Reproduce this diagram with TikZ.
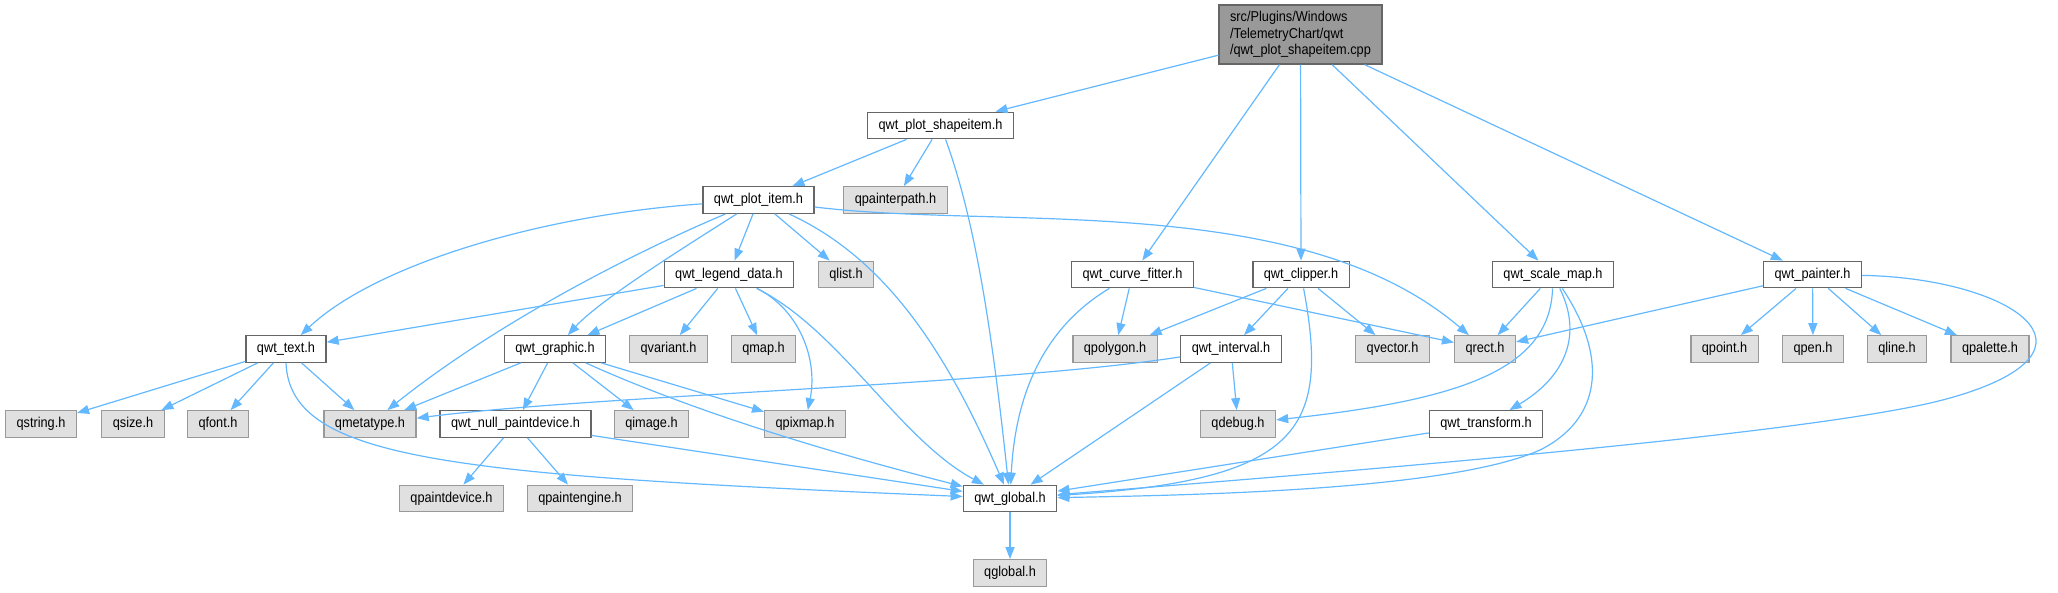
\documentclass[tikz,border=0pt]{standalone}
\usepackage{fontspec}
\setmainfont{Liberation Sans}[FakeStretch=0.89]
\usetikzlibrary{arrows.meta}

\definecolor{edgeblue}{HTML}{63B8FF}
\definecolor{boxgray}{HTML}{E0E0E0}
\definecolor{rootgray}{HTML}{999999}
\definecolor{darkline}{HTML}{666666}
\definecolor{lightline}{HTML}{999999}

\begin{document}
\begin{tikzpicture}[x=1pt,y=-1pt,
  file/.style={draw=darkline,fill=white,line width=1.3pt,inner xsep=11pt,inner ysep=0pt,
    minimum height=26.5pt,font=\fontsize{14.3}{16}\selectfont},
  sys/.style={file,draw=lightline,fill=boxgray},
  hdr/.style={file,fill=rootgray,align=left,minimum height=59pt,
    font=\fontsize{14.3}{16.3}\selectfont},
  dep/.style={draw=edgeblue,line width=1.2pt,-{Triangle[length=12pt,width=9pt]}}]
  \useasboundingbox (0,0) rectangle (2058,592);

  % top levels
  \node[hdr] (root) at (1300.5,34.5) {src/Plugins/Windows\\/TelemetryChart/qwt\\/qwt\_plot\_shapeitem.cpp};
  \node[file] (shapeitem) at (940.5,125.5) {qwt\_plot\_shapeitem.h};
  \node[file] (plotitem) at (758.5,200) {qwt\_plot\_item.h};
  \node[sys] (painterpath) at (895.5,200) {qpainterpath.h};
  \node[file] (legend) at (729,274.5) {qwt\_legend\_data.h};
  \node[sys] (qlist) at (846,274.5) {qlist.h};
  \node[file] (curvefitter) at (1132.5,274.5) {qwt\_curve\_fitter.h};
  \node[file] (clipper) at (1301,274.5) {qwt\_clipper.h};
  \node[file] (scalemap) at (1553,274.5) {qwt\_scale\_map.h};
  \node[file] (painter) at (1812.5,274.5) {qwt\_painter.h};

  % middle row
  \node[file] (qwttext) at (286,349) {qwt\_text.h};
  \node[file] (graphic) at (555,349) {qwt\_graphic.h};
  \node[sys] (qvariant) at (668.5,349) {qvariant.h};
  \node[sys] (qmap) at (763.5,349) {qmap.h};
  \node[sys] (qpolygon) at (1115,349) {qpolygon.h};
  \node[file] (interval) at (1231,349) {qwt\_interval.h};
  \node[sys] (qvector) at (1392.5,349) {qvector.h};
  \node[sys] (qrect) at (1485,349) {qrect.h};
  \node[sys] (qpoint) at (1724.5,349) {qpoint.h};
  \node[sys] (qpen) at (1813,349) {qpen.h};
  \node[sys] (qline) at (1897,349) {qline.h};
  \node[sys] (qpalette) at (1990,349) {qpalette.h};

  \node[sys] (qstring) at (41,424) {qstring.h};
  \node[sys] (qsize) at (133,424) {qsize.h};
  \node[sys] (qfont) at (218,424) {qfont.h};
  \node[sys] (qmetatype) at (370,424) {qmetatype.h};
  \node[file] (nullpd) at (515.5,424) {qwt\_null\_paintdevice.h};
  \node[sys] (qimage) at (651.5,424) {qimage.h};
  \node[sys] (qpixmap) at (805,424) {qpixmap.h};
  \node[sys] (qdebug) at (1238,424) {qdebug.h};
  \node[file] (transform) at (1486,424) {qwt\_transform.h};

  % bottom
  \node[sys] (qpaintdevice) at (451.5,498.5) {qpaintdevice.h};
  \node[sys] (qpaintengine) at (580,498.5) {qpaintengine.h};
  \node[file] (qwtglobal) at (1010,498.5) {qwt\_global.h};
  \node[sys] (qglobal) at (1010,573) {qglobal.h};

  % includes of the source file
  \draw[dep] (root) -- (shapeitem);
  \draw[dep] (root) -- (curvefitter);
  \draw[dep] (root) -- (clipper);
  \draw[dep] (root) -- (scalemap);
  \draw[dep] (root) -- (painter);

  \draw[dep] (shapeitem) -- (plotitem);
  \draw[dep] (shapeitem) -- (painterpath);
  \draw[dep] (shapeitem) .. controls (975,220) and (992,330) .. (qwtglobal);

  \draw[dep] (plotitem) .. controls (540,215) and (375,265) .. (qwttext);
  \draw[dep] (plotitem) .. controls (640,250) and (500,320) .. (qmetatype);
  \draw[dep] (plotitem) .. controls (680,250) and (600,300) .. (graphic);
  \draw[dep] (plotitem) -- (legend);
  \draw[dep] (plotitem) -- (qlist);
  \draw[dep] (plotitem) .. controls (890,260) and (950,360) .. (qwtglobal);
  \draw[dep] (plotitem) .. controls (1000,230) and (1300,190) .. (qrect);

  \draw[dep] (legend) -- (qwttext);
  \draw[dep] (legend) -- (graphic);
  \draw[dep] (legend) -- (qvariant);
  \draw[dep] (legend) -- (qmap);
  \draw[dep] (legend) .. controls (800,310) and (818,360) .. (qpixmap);
  \draw[dep] (legend) .. controls (840,330) and (900,440) .. (qwtglobal);

  \draw[dep] (qwttext) -- (qstring);
  \draw[dep] (qwttext) -- (qsize);
  \draw[dep] (qwttext) -- (qfont);
  \draw[dep] (qwttext) -- (qmetatype);
  \draw[dep] (qwttext.south) .. controls (290,460) and (450,475) .. (qwtglobal);

  \draw[dep] (graphic) -- (qmetatype);
  \draw[dep] (graphic) -- (nullpd);
  \draw[dep] (graphic) -- (qimage);
  \draw[dep] (graphic) -- (qpixmap);
  \draw[dep] (graphic) .. controls (690,410) and (820,450) .. (qwtglobal);

  \draw[dep] (nullpd) -- (qpaintdevice);
  \draw[dep] (nullpd) -- (qpaintengine);
  \draw[dep] (nullpd) -- (qwtglobal);

  \draw[dep] (curvefitter) -- (qpolygon);
  \draw[dep] (curvefitter) -- (qrect);
  \draw[dep] (curvefitter) .. controls (1040,330) and (1015,400) .. (qwtglobal);

  \draw[dep] (clipper) -- (qpolygon);
  \draw[dep] (clipper) -- (interval);
  \draw[dep] (clipper) -- (qvector);
  \draw[dep] (clipper) .. controls (1330,430) and (1300,480) .. (qwtglobal);

  \draw[dep] (interval) .. controls (1000,385) and (600,395) .. (qmetatype);
  \draw[dep] (interval) -- (qdebug);
  \draw[dep] (interval) -- (qwtglobal);

  \draw[dep] (scalemap) -- (qrect);
  \draw[dep] (scalemap) .. controls (1550,370) and (1460,400) .. (qdebug);
  \draw[dep] (scalemap) .. controls (1585,340) and (1560,380) .. (transform);
  \draw[dep] (scalemap) .. controls (1610,360) and (1600,420) .. (1540,450)
    .. controls (1450,490) and (1200,495) .. (qwtglobal);

  \draw[dep] (transform) -- (qwtglobal);

  \draw[dep] (painter) -- (qrect);
  \draw[dep] (painter) -- (qpoint);
  \draw[dep] (painter) -- (qpen);
  \draw[dep] (painter) -- (qline);
  \draw[dep] (painter) -- (qpalette);
  \draw[dep] (painter) .. controls (2010,278) and (2120,350) .. (1950,398)
    .. controls (1820,435) and (1300,475) .. (qwtglobal);

  \draw[dep] (qwtglobal) -- (qglobal);
\end{tikzpicture}
\end{document}
